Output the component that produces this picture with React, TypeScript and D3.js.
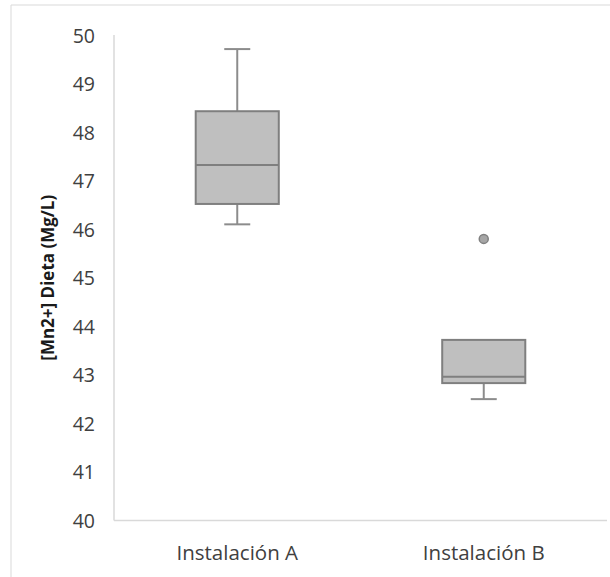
import React from 'react'
import * as d3 from 'd3'

const width = 610
const height = 577
const margin = { top: 35, right: 3, bottom: 56.5, left: 114 }

const categories = ['Instalación A', 'Instalación B']
const whiskerLow = [46.1, 42.5]
const q1 = [46.52, 42.83]
const median = [47.32, 42.96]
const q3 = [48.43, 43.72]
const whiskerHigh = [49.71, 43.72]
const outliers = [[], [45.8]]
const yTicks = [40, 41, 42, 43, 44, 45, 46, 47, 48, 49, 50]
const yTitle = '[Mn2+] Dieta (Mg/L)'

const font = '"Open Sans", "DejaVu Sans", sans-serif'

const App = () => {
  const xScale = d3.scaleBand<string>()
    .domain(categories)
    .range([margin.left, width - margin.right])

  const yScale = d3.scaleLinear()
    .domain([40, 50])
    .range([height - margin.bottom, margin.top])

  const bw = xScale.bandwidth()
  const boxW = bw * 0.337
  const capW = 26

  return (
    <svg width={width} height={height} style={{ position: 'absolute', left: 0, top: 0, background: '#fff' }}>
      {/* chart frame */}
      <path d={`M11,${height + 2} V5 H${width + 2}`} fill='none' stroke='#d9d9d9' strokeWidth='1' />

      {/* axis lines */}
      <line x1={margin.left} x2={margin.left} y1={yScale(50)} y2={yScale(40)} stroke='#d9d9d9' strokeWidth='1.5' />
      <line x1={margin.left} x2={width - margin.right} y1={yScale(40)} y2={yScale(40)} stroke='#d9d9d9' strokeWidth='1.5' />

      {/* y tick labels */}
      {yTicks.map(t => (
        <text key={t} x={95} y={yScale(t)} textAnchor='end' dominantBaseline='central'
          fontFamily={font} fontSize='19.5' fill='#404040'>{t}</text>
      ))}

      {/* x labels */}
      {categories.map(c => (
        <text key={c} x={xScale(c)! + bw / 2} y={552} textAnchor='middle' dominantBaseline='central'
          fontFamily={font} fontSize='20.5' fill='#404040'>{c}</text>
      ))}

      {/* y title */}
      <text transform={`translate(47, ${yScale(45)}) rotate(-90)`} textAnchor='middle' dominantBaseline='central'
        fontFamily={font} fontSize='17' fontWeight='bold' fill='#1a1a1a'>{yTitle}</text>

      {/* boxes */}
      {categories.map((c, i) => {
        const cx = xScale(c)! + bw / 2
        return (
          <g key={c}>
            {whiskerHigh[i] > q3[i] && (
              <>
                <line x1={cx} x2={cx} y1={yScale(q3[i])} y2={yScale(whiskerHigh[i])} stroke='#8c8c8c' strokeWidth='2' />
                <line x1={cx - capW / 2} x2={cx + capW / 2} y1={yScale(whiskerHigh[i])} y2={yScale(whiskerHigh[i])} stroke='#8c8c8c' strokeWidth='2' />
              </>
            )}
            <line x1={cx} x2={cx} y1={yScale(q1[i])} y2={yScale(whiskerLow[i])} stroke='#8c8c8c' strokeWidth='2' />
            <line x1={cx - capW / 2} x2={cx + capW / 2} y1={yScale(whiskerLow[i])} y2={yScale(whiskerLow[i])} stroke='#8c8c8c' strokeWidth='2' />
            <rect x={cx - boxW / 2} y={yScale(q3[i])} width={boxW} height={yScale(q1[i]) - yScale(q3[i])}
              fill='#bfbfbf' stroke='#7f7f7f' strokeWidth='2' />
            <line x1={cx - boxW / 2} x2={cx + boxW / 2} y1={yScale(median[i])} y2={yScale(median[i])} stroke='#7f7f7f' strokeWidth='2' />
            {outliers[i].map((o, j) => (
              <circle key={j} cx={cx} cy={yScale(o)} r='4.5' fill='#a6a6a6' stroke='#808080' strokeWidth='1.5' />
            ))}
          </g>
        )
      })}
    </svg>
  )
}

export default App
